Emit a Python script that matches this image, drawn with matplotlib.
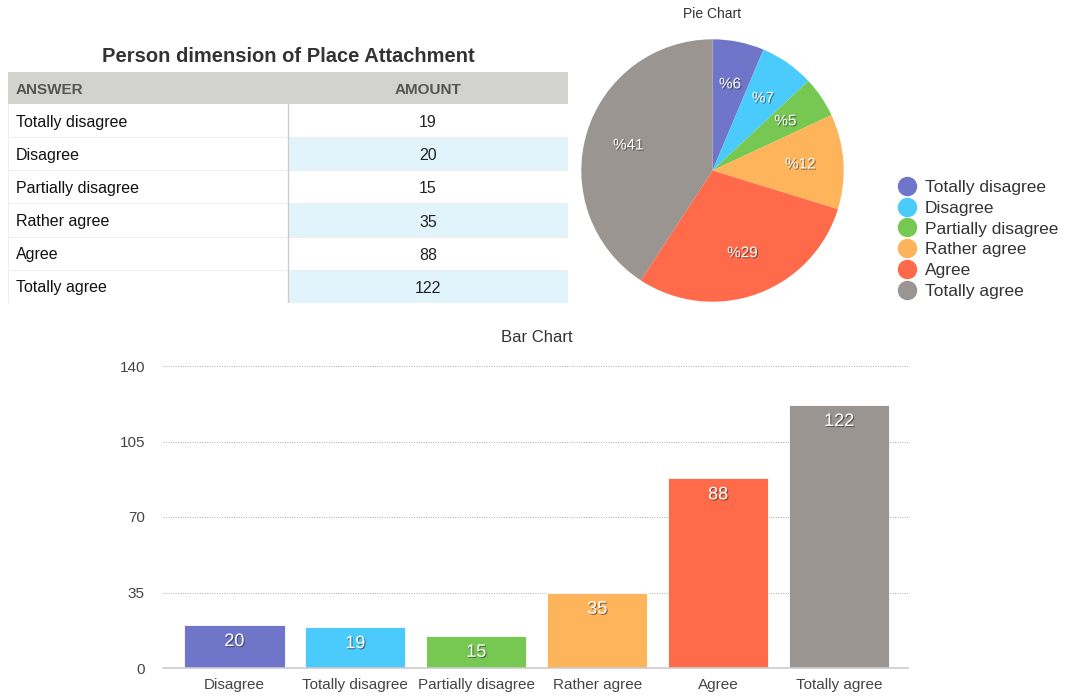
"""
Person dimension of Place Attachment: table + pie chart + bar chart.
Run: python plot.py  ->  out.png
"""
import matplotlib

matplotlib.use("Agg")
import matplotlib.pyplot as plt
import matplotlib.patheffects as pe
from matplotlib.lines import Line2D
from matplotlib.patches import Rectangle

# table / pie data (order of the source table)
ANSWERS = ["Totally disagree", "Disagree", "Partially disagree", "Rather agree", "Agree", "Totally agree"]
AMOUNTS = [19, 20, 15, 35, 88, 122]

# bar chart data (order as drawn in the bar chart)
BAR_LABELS = ["Disagree", "Totally disagree", "Partially disagree", "Rather agree", "Agree", "Totally agree"]
BAR_VALUES = [20, 19, 15, 35, 88, 122]
Y_TICKS = [0, 35, 70, 105, 140]

COLORS = ["#6f76c9", "#4bcbfb", "#76c852", "#fdb45b", "#fe6a4a", "#9a9591"]

W, H = 1069, 696
plt.rcParams["font.family"] = ["Liberation Sans", "DejaVu Sans"]

fig = plt.figure(figsize=(W / 100, H / 100), dpi=100)
fig.patch.set_facecolor("white")


def px_axes(x0, y0, x1, y1):
    """Axes from pixel box (top-left origin)."""
    return fig.add_axes([x0 / W, 1 - y1 / H, (x1 - x0) / W, (y1 - y0) / H])


shadow = [pe.withSimplePatchShadow(offset=(0.8, -0.8), shadow_rgbFace="#222222", alpha=0.55)]

# ---------------- table ----------------
tab = px_axes(8, 72, 568, 303)
tab.set_xlim(0, 560)
tab.set_ylim(231, 0)
tab.axis("off")
HEAD_H = 32
ROW_H = (231 - HEAD_H) / len(ANSWERS)
MID = 280
tab.add_patch(Rectangle((0, 0), 560, HEAD_H, facecolor="#d2d2ce", edgecolor="none"))
tab.text(8, HEAD_H / 2 + 1.5, "ANSWER", ha="left", va="center", fontsize=11, fontweight="bold", color="#555555")
tab.text((MID + 560) / 2, HEAD_H / 2 + 1.5, "AMOUNT", ha="center", va="center", fontsize=11,
         fontweight="bold", color="#555555")
for i, (ans, amt) in enumerate(zip(ANSWERS, AMOUNTS)):
    y0 = HEAD_H + i * ROW_H
    if i % 2 == 1:
        tab.add_patch(Rectangle((MID, y0), 560 - MID, ROW_H, facecolor="#e2f4fb", edgecolor="none"))
    tab.plot([0, 560], [y0 + ROW_H, y0 + ROW_H], color="#eeeeee", lw=0.8)
    tab.text(8, y0 + ROW_H / 2 + 1.5, ans, ha="left", va="center", fontsize=11.5, color="#111111")
    tab.text((MID + 560) / 2, y0 + ROW_H / 2 + 2, str(amt), ha="center", va="center", fontsize=11.5,
             color="#222222")
tab.plot([MID, MID], [HEAD_H, 231], color="#cccccc", lw=1)
tab.plot([0, 0], [HEAD_H, 231], color="#eeeeee", lw=0.8)
fig.text(288 / W, 1 - 56 / H, "Person dimension of Place Attachment", ha="center", va="center",
         fontsize=14.5, fontweight="bold", color="#333333")

# ---------------- pie ----------------
pie = px_axes(580, 38, 845, 303)
wedges, _, autotexts = pie.pie(
    AMOUNTS, colors=COLORS, startangle=90, counterclock=False,
    autopct=lambda p: "%{:.0f}".format(p), pctdistance=0.67,
    textprops=dict(color="white", fontsize=11),
)
for t in autotexts:
    t.set_path_effects(shadow)
pie.set_xlim(-1.01, 1.01)
pie.set_ylim(-1.01, 1.01)
pie.set_aspect("equal")
fig.text(712 / W, 1 - 14 / H, "Pie Chart", ha="center", va="center", fontsize=10, color="#333333")

handles = [Line2D([], [], marker="o", ls="none", markersize=13, markerfacecolor=c,
                  markeredgecolor=c) for c in COLORS]
fig.legend(handles, ANSWERS, loc="upper left", bbox_to_anchor=(890 / W, 1 - 173 / H),
           frameon=False, fontsize=12.5, handletextpad=0.4, labelspacing=0.32,
           borderaxespad=0, handlelength=1.2, labelcolor="#333333")

# ---------------- bar chart ----------------
ax = px_axes(163, 366, 908, 668)
x = range(len(BAR_VALUES))
bars = ax.bar(x, BAR_VALUES, width=0.83, color=COLORS, edgecolor="white", linewidth=0.6, zorder=3)
for b, v in zip(bars, BAR_VALUES):
    ax.annotate(str(v), (b.get_x() + b.get_width() / 2, v), xytext=(0, -12),
                textcoords="offset points", ha="center", va="center", fontsize=13,
                color="white", path_effects=shadow, zorder=4)
ax.set_xlim(-0.59, 5.57)
ax.set_ylim(0, 140)
ax.set_yticks(Y_TICKS)
ax.set_xticks(list(x), BAR_LABELS)
ax.grid(axis="y", linestyle=(0, (1, 1.5)), color="#aaaaaa", lw=0.7, zorder=0)
for s in ["top", "right", "left"]:
    ax.spines[s].set_visible(False)
ax.spines["bottom"].set_color("#cccccc")
ax.spines["bottom"].set_linewidth(1.2)
ax.spines["bottom"].set_zorder(5)
ax.tick_params(axis="both", length=0, labelsize=11, colors="#444444")
ax.tick_params(axis="y", pad=13)
ax.tick_params(axis="x", pad=7)
fig.text(537 / W, 1 - 337 / H, "Bar Chart", ha="center", va="center", fontsize=12, color="#333333")

fig.savefig("out.png", dpi=100)
